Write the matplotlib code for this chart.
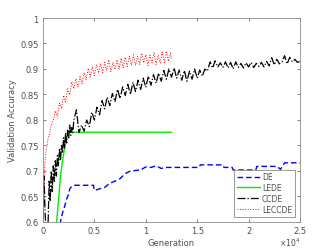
import matplotlib
matplotlib.use("Agg")
import matplotlib.pyplot as plt

# ---- data ----
ccde_gen = list(range(0, 3100, 100)) + list(range(3250, 25250, 250))
ccde_acc = [0.58, 0.69, 0.62, 0.58, 0.57, 0.60, 0.68, 0.64, 0.70, 0.66,
            0.71, 0.68, 0.72, 0.69, 0.73, 0.71, 0.745, 0.72, 0.75, 0.735,
            0.765, 0.745, 0.775, 0.755, 0.78, 0.765, 0.79, 0.77, 0.785, 0.775,
            0.80,
            0.82, 0.775, 0.79, 0.778, 0.80, 0.787, 0.815, 0.8, 0.825, 0.81,
            0.838, 0.822, 0.845, 0.828, 0.852, 0.836, 0.86, 0.842, 0.865, 0.848,
            0.87, 0.85, 0.874, 0.856, 0.878, 0.86, 0.882, 0.864, 0.886, 0.868,
            0.889, 0.872, 0.892, 0.876, 0.897, 0.88, 0.9, 0.884, 0.902, 0.882,
            0.898, 0.878, 0.897, 0.876, 0.896, 0.88, 0.9, 0.882, 0.898, 0.886,
            0.90, 0.896, 0.914, 0.902, 0.916, 0.904, 0.912, 0.903, 0.914, 0.902,
            0.913, 0.9, 0.914, 0.903, 0.911, 0.902, 0.912, 0.904, 0.913, 0.903,
            0.911, 0.905, 0.913, 0.904, 0.915, 0.906, 0.922, 0.908, 0.919, 0.91,
            0.914, 0.926, 0.91, 0.923, 0.914, 0.919, 0.913, 0.915]

leccde_gen = list(range(0, 1100, 100)) + list(range(1200, 12600, 200)) + [12500]
leccde_acc = [0.60, 0.68, 0.72, 0.74, 0.75, 0.765, 0.77, 0.78, 0.79, 0.795,
              0.80,
              0.818, 0.807, 0.833, 0.822, 0.848, 0.836, 0.861, 0.849, 0.875, 0.861,
              0.881, 0.865, 0.885, 0.871, 0.893, 0.879, 0.901, 0.884, 0.905, 0.887,
              0.908, 0.892, 0.911, 0.893, 0.913, 0.897, 0.918, 0.895, 0.913, 0.899,
              0.918, 0.9, 0.921, 0.902, 0.923, 0.905, 0.925, 0.907, 0.928, 0.907,
              0.925, 0.909, 0.931, 0.912, 0.928, 0.907, 0.927, 0.912, 0.933, 0.909,
              0.927, 0.912, 0.933, 0.913, 0.935, 0.915, 0.931,
              0.92]

lede_gen = [1300, 1500, 1700, 1900, 2100, 2300, 2500, 12500]
lede_acc = [0.595, 0.64, 0.69, 0.72, 0.745, 0.765, 0.776, 0.776]

de_gen = [1650, 1800, 2000, 2100, 2300, 2500, 2600, 2800, 3000, 4900,
          5000, 5500, 6000, 6500, 7000, 7500, 8000, 8500, 9500, 10000,
          10500, 11000, 11500, 12000, 15200, 15300, 17500, 17600, 18400, 18500,
          20700, 20800, 22800, 23100, 23500, 25000]
de_acc = [0.595, 0.61, 0.625, 0.63, 0.645, 0.655, 0.665, 0.67, 0.672, 0.672,
          0.662, 0.665, 0.668, 0.676, 0.68, 0.685, 0.695, 0.70, 0.702, 0.708,
          0.707, 0.71, 0.705, 0.707, 0.707, 0.712, 0.712, 0.707, 0.707, 0.702,
          0.702, 0.709, 0.709, 0.703, 0.716, 0.716]

x_ticks = [0, 5000, 10000, 15000, 20000, 25000]
x_ticklabels = ["0", "0.5", "1", "1.5", "2", "2.5"]
y_ticks = [0.6, 0.65, 0.7, 0.75, 0.8, 0.85, 0.9, 0.95, 1.0]
y_ticklabels = ["0.6", "0.65", "0.7", "0.75", "0.8", "0.85", "0.9", "0.95", "1"]

fs = 6
grey = "#4d4d4d"

fig = plt.figure(figsize=(3.32, 2.51), dpi=100)
ax = fig.add_axes([0.1295, 0.1116, 0.7741, 0.8127])

ax.plot(de_gen, de_acc, color="blue", ls=(0, (4, 2.2)), lw=1.0, label="DE")
ax.plot(lede_gen, lede_acc, color="#00ee00", ls="-", lw=1.0, label="LEDE")
ax.plot(ccde_gen, ccde_acc, color="black", ls="-.", lw=0.9, label="CCDE")
ax.plot(leccde_gen, leccde_acc, color="red", ls=":", lw=0.7, label="LECCDE")

ax.set_xlim(0, 25000)
ax.set_ylim(0.6, 1.0)
ax.set_xticks(x_ticks)
ax.set_xticklabels(x_ticklabels)
ax.set_yticks(y_ticks)
ax.set_yticklabels(y_ticklabels)
ax.tick_params(direction="in", length=2.5, width=0.5, top=True, right=True,
               labelsize=fs, colors=grey, pad=3)
for s in ax.spines.values():
    s.set_linewidth(0.6)
    s.set_color("#8c8c8c")

ax.set_xlabel("Generation", fontsize=fs, color=grey, labelpad=2)
ax.set_ylabel("Validation Accuracy", fontsize=fs, color=grey)
ax.yaxis.set_label_coords(-0.1, 0.5)
ax.text(1.0, -0.098, r"$\times10^4$", transform=ax.transAxes, ha="right",
        va="center", fontsize=fs - 0.5, color=grey)

leg = ax.legend(loc="lower right", fontsize=5.5, handlelength=3.0,
                fancybox=False, framealpha=1, edgecolor="#8c8c8c",
                borderaxespad=0.7, labelspacing=0.25, handletextpad=0.3,
                borderpad=0.35)
leg.get_frame().set_linewidth(0.6)
for t in leg.get_texts():
    t.set_color(grey)

fig.savefig("out.png", dpi=100)
